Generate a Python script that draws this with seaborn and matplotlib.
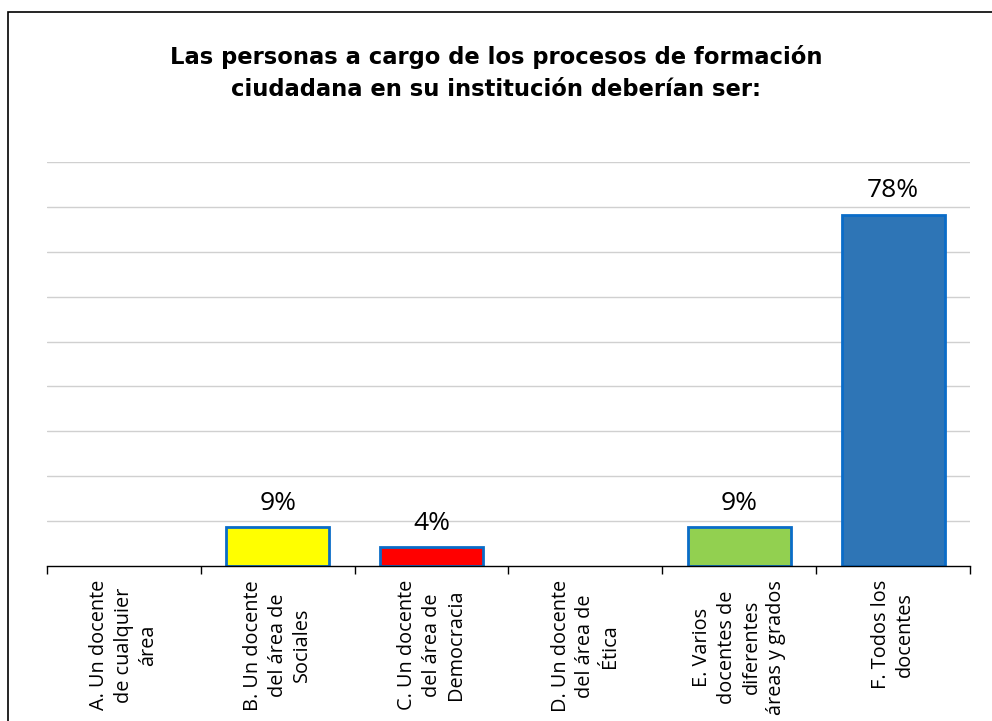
import matplotlib
matplotlib.use("Agg")
import matplotlib.pyplot as plt
import seaborn as sns
import pandas as pd
from matplotlib.patches import Rectangle

categories = [
    "A. Un docente\nde cualquier\nárea",
    "B. Un docente\ndel área de\nSociales",
    "C. Un docente\ndel área de\nDemocracia",
    "D. Un docente\ndel área de\nÉtica",
    "E. Varios\ndocentes de\ndiferentes\náreas y grados",
    "F. Todos los\ndocentes",
]
values = [0.0, 8.7, 4.3, 0.0, 8.7, 78.3]
colors = ["#FFFFFF", "#FFFF00", "#FF0000", "#FFFFFF", "#92D050", "#2E75B6"]
title = "Las personas a cargo de los procesos de formación\nciudadana en su institución deberían ser:"

df = pd.DataFrame({"cat": categories, "val": values})

sns.set_theme(style="white")
plt.rcParams['font.family'] = ['Open Sans', 'DejaVu Sans']

fig = plt.figure(figsize=(9.92, 7.21), dpi=100)
W, H = 992, 721
ax = fig.add_axes([47 / W, (H - 566) / H, (970 - 47) / W, (566 - 162) / H])

sns.barplot(data=df, x="cat", y="val", hue="cat", palette=colors, legend=False,
            width=0.67, ax=ax, edgecolor="#0A6CC8", linewidth=2, saturation=1)

for p, v in zip(ax.patches, values):
    if v == 0:
        p.set_visible(False)

ax.set_ylim(0, 90)
ax.set_xlim(-0.5, len(categories) - 0.5)
ax.set_yticks(range(10, 91, 10))
ax.set_yticklabels([])
ax.tick_params(axis="y", length=0)
ax.grid(axis="y", color="#D0D0D0", linewidth=1)
ax.set_axisbelow(True)
for s in ["left", "right", "top"]:
    ax.spines[s].set_visible(False)
ax.spines["bottom"].set_color("black")
ax.spines["bottom"].set_linewidth(1)

ax.set_xlabel("")
ax.set_ylabel("")
ax.set_xticks(range(len(categories)))
ax.set_xticklabels(categories, rotation=90, ha="right", va="center",
                   rotation_mode="anchor", multialignment="center", fontsize=14.3,
                   color="black", linespacing=1.3)
ax.set_xticks([i - 0.5 for i in range(len(categories) + 1)], minor=True)
ax.tick_params(axis="x", which="major", length=0, pad=10)
ax.tick_params(axis="x", which="minor", length=6, width=1, color="black", direction="out", bottom=True)

for i, v in enumerate(values):
    if v > 0:
        ax.annotate(f"{v:.0f}%", (i, v), xytext=(0, 8), textcoords="offset points",
                    ha="center", va="bottom", fontsize=19, color="black")

fig.text(0.5, (H - 73) / H, title, ha="center", va="center", fontsize=16.3,
         fontweight="bold", family=["DejaVu Sans"], linespacing=1.45, color="black")

fig.patches.append(Rectangle((8 / W, -0.1), 1.2, (H - 12) / H + 0.1, transform=fig.transFigure,
                             fill=False, edgecolor="black", linewidth=1.2))

fig.savefig("out.png", dpi=100)
